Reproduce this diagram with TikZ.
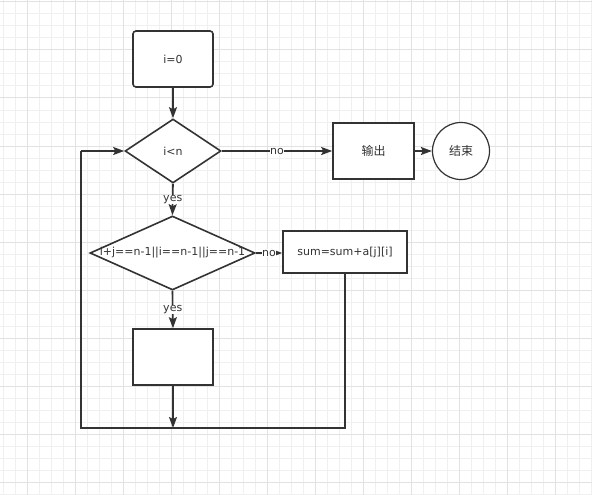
\documentclass[tikz,border=0pt]{standalone}
\usepackage{fontspec}
\setmainfont{DejaVu Sans}
\newfontfamily\cjk{Noto Sans CJK SC}
\usetikzlibrary{shapes.geometric,arrows.meta}

\definecolor{ink}{HTML}{333333}
\definecolor{gridminor}{HTML}{F0F0F0}
\definecolor{gridmajor}{HTML}{E2E2E2}

\tikzset{
  process/.style={draw=ink, line width=1.6pt, fill=white, rectangle, inner sep=0pt},
  decision/.style={draw=ink, line width=1.6pt, fill=white, diamond, inner sep=0pt},
  flow/.style={draw=ink, line width=1.6pt, -{Stealth[length=11pt,width=8pt,inset=2pt]}},
  line/.style={draw=ink, line width=1.6pt},
  tag/.style={fill=white, inner sep=0.5pt, text=ink}
}

\begin{document}
\begin{tikzpicture}[x=1pt, y=-1pt, font=\fontsize{11}{13}\selectfont, text=ink]
  \useasboundingbox (0,0) rectangle (592,495);

  % background grid
  \foreach \gx in {3,15,...,591}
    \draw[gridminor, line width=1pt] (\gx,0) -- (\gx,495);
  \foreach \gy in {2,14,...,494}
    \draw[gridminor, line width=1pt] (0,\gy) -- (592,\gy);
  \foreach \gx in {27,75,...,555}
    \draw[gridmajor, line width=1pt] (\gx,0) -- (\gx,495);
  \foreach \gy in {2,50,...,482}
    \draw[gridmajor, line width=1pt] (0,\gy) -- (592,\gy);

  \node (start) at (173, 59) [process, rounded corners=3pt, minimum width=80pt, minimum height=56pt] {i=0};
  \node (cond1) at (173,151) [decision, minimum width=96pt, minimum height=64pt] {i<n};
  \node (output) at (373.5,151) [process, minimum width=81pt, minimum height=56pt] {\cjk\fontsize{12}{14}\selectfont 输出};
  \node (finish) at (461,151) [draw=ink, line width=1.2pt, fill=white, circle, inner sep=0pt, minimum size=57pt] {\cjk\fontsize{12}{14}\selectfont 结束};
  \node (cond2) at (172.5,253) [decision, minimum width=165pt, minimum height=74pt,
    label={center:i+j==n-1||i==n-1||j==n-1}] {};
  \node (sum) at (345,252) [process, minimum width=124pt, minimum height=42pt] {sum=sum+a[j][i]};
  \node (body) at (173,357) [process, minimum width=80pt, minimum height=56pt] {};

  \coordinate (join) at (173,428);
  \coordinate (loopR) at (345,428);
  \coordinate (loopL) at (81,428);
  \coordinate (loopT) at (81,151);

  \draw[flow] (start) -- (cond1);
  \draw[flow] (cond1.east) -- node[tag] {no} (output.west);
  \draw[flow] (output) -- (finish);
  \draw[flow] (cond1.south) -- node[tag] {yes} (cond2.north);
  \draw[flow] (cond2.east) -- node[tag] {no} (sum.west |- cond2.east);
  \draw[flow] (cond2.south) -- node[tag] {yes} (body.north);
  \draw[flow] (body.south) -- (join);
  \draw[line] (sum.south) -- (loopR) -- (loopL) -- (loopT);
  \draw[flow] (loopT) -- (cond1.west);
\end{tikzpicture}
\end{document}
